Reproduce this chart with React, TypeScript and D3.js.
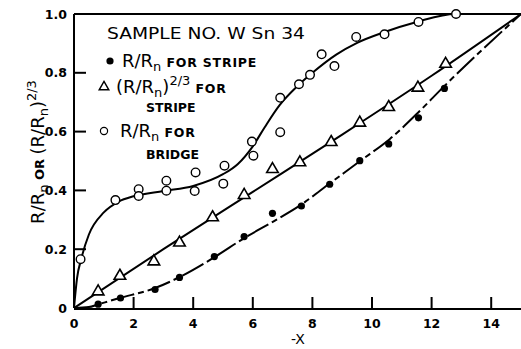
import * as d3 from 'd3';

// open circles: R/Rn for bridge
const bridgeX = [0.22, 1.39, 2.17, 2.17, 3.1, 3.1, 4.08, 4.05, 5.05, 5.01, 5.97, 6.02, 6.92, 6.92, 7.55, 7.92, 8.31, 8.74, 9.47, 10.42, 11.56, 12.82];
const bridgeY = [0.166, 0.367, 0.404, 0.381, 0.433, 0.399, 0.461, 0.398, 0.484, 0.423, 0.566, 0.518, 0.715, 0.598, 0.761, 0.793, 0.863, 0.823, 0.922, 0.931, 0.973, 1.0];

// triangles: (R/Rn)^2/3 for stripe
const triX = [0.81, 1.54, 2.68, 3.54, 4.65, 5.71, 6.66, 7.58, 8.63, 9.59, 10.56, 11.54, 12.47];
const triY = [0.056, 0.109, 0.158, 0.222, 0.308, 0.384, 0.472, 0.495, 0.564, 0.63, 0.683, 0.749, 0.83];

// filled dots: R/Rn for stripe
const dotX = [0.81, 1.56, 2.72, 3.54, 4.71, 5.71, 6.66, 7.63, 8.58, 9.59, 10.56, 11.56, 12.43];
const dotY = [0.013, 0.034, 0.063, 0.104, 0.175, 0.243, 0.322, 0.347, 0.421, 0.501, 0.558, 0.647, 0.747];

// hand-drawn fitted curves
const bridgeCurveX = [0, 0.1, 0.25, 0.5, 1, 1.5, 2, 3, 4, 5, 5.5, 6, 6.4, 6.9, 7.5, 8, 8.8, 9.5, 10.4, 11.5, 12.8, 15];
const bridgeCurveY = [0, 0.1, 0.17, 0.25, 0.325, 0.362, 0.38, 0.398, 0.415, 0.455, 0.49, 0.55, 0.615, 0.69, 0.755, 0.8, 0.862, 0.902, 0.938, 0.973, 1.0, 1.0];
const triCurveX = [0, 3, 6, 9, 12, 15];
const triCurveY = [0, 0.2, 0.395, 0.59, 0.79, 1.0];
const dotCurveX = [0, 0.5, 0.8, 1.5, 2.7, 3.5, 4.7, 5.7, 6.7, 7.6, 8.6, 9.6, 10.6, 11.6, 12.4, 15];
const dotCurveY = [0, 0.003, 0.012, 0.033, 0.067, 0.103, 0.172, 0.237, 0.295, 0.35, 0.425, 0.5, 0.575, 0.67, 0.752, 1.0];

const xTicks = [0, 2, 4, 6, 8, 10, 12, 14];
const yTicks = [0, 0.2, 0.4, 0.6, 0.8, 1.0];

const FONT = 'DejaVu Sans';

export default function App() {
  const width = 521;
  const height = 349;

  const x = d3.scaleLinear().domain([0, 15]).range([74, 521]);
  const y = d3.scaleLinear().domain([0, 1]).range([308, 14]);

  const curve = (xs: number[], ys: number[]) =>
    d3
      .line<number>()
      .x((_, i) => x(xs[i]))
      .y((d) => y(d))
      .curve(d3.curveMonotoneX)(ys) ?? '';

  const tri = d3.symbol().type(d3.symbolTriangle).size(58)() ?? '';
  const triSmall = d3.symbol().type(d3.symbolTriangle).size(40)() ?? '';

  return (
    <svg
      width={width}
      height={height}
      style={{ position: 'absolute', left: 0, top: 0, background: '#fff' }}
      fontFamily={FONT}
    >
      {/* frame */}
      <g stroke="#000" strokeWidth={2} fill="none">
        <line x1={x(0)} x2={x(15)} y1={y(1)} y2={y(1)} />
        <line x1={x(0)} x2={x(0)} y1={y(0)} y2={y(1)} />
        <line x1={x(0)} x2={x(15)} y1={y(0) + 1} y2={y(0) + 1} />
        {xTicks.filter((t) => t > 0).map((t) => (
          <line key={t} x1={x(t)} x2={x(t)} y1={y(0)} y2={y(0) - 11} />
        ))}
        {yTicks.filter((t) => t > 0 && t < 1).map((t) => (
          <line key={t} x1={x(0)} x2={x(0) + 12} y1={y(t)} y2={y(t)} />
        ))}
      </g>

      {/* tick labels */}
      <g fontSize={12.5} fontWeight="bold" fill="#000">
        {xTicks.map((t) => (
          <text key={t} x={x(t)} y={328} textAnchor="middle">{t}</text>
        ))}
        {yTicks.map((t) => (
          <text key={t} x={67} y={y(t) + 4.5} textAnchor="end">{t === 0 ? '0' : t.toFixed(1)}</text>
        ))}
      </g>
      <text x={298} y={344} textAnchor="middle" fontSize={14}>-X</text>

      {/* y label */}
      <text transform="translate(44,152) rotate(-90)" textAnchor="middle" fontSize={18}>
        R/R<tspan dy={4} fontSize={13}>n</tspan>
        <tspan dy={-4} fontSize={13} fontWeight="bold"> OR </tspan>
        <tspan>(R/R</tspan>
        <tspan dy={4} fontSize={13}>n</tspan>
        <tspan dy={-4}>)</tspan>
        <tspan dy={-8} fontSize={13}>2/3</tspan>
      </text>

      {/* curves */}
      <g fill="none" stroke="#000" strokeWidth={2}>
        <path d={curve(bridgeCurveX, bridgeCurveY)} />
        <path d={curve(triCurveX, triCurveY)} />
        <path d={curve(dotCurveX, dotCurveY)} strokeDasharray="24,4,6,4" />
      </g>

      {/* markers */}
      {bridgeX.map((v, i) => (
        <circle key={`b${i}`} cx={x(v)} cy={y(bridgeY[i])} r={4.3} fill="#fff" stroke="#000" strokeWidth={1.4} />
      ))}
      {triX.map((v, i) => (
        <path key={`t${i}`} d={tri} transform={`translate(${x(v)},${y(triY[i])})`} fill="#fff" stroke="#000" strokeWidth={1.6} />
      ))}
      {dotX.map((v, i) => (
        <circle key={`d${i}`} cx={x(v)} cy={y(dotY[i])} r={3.6} fill="#000" />
      ))}

      {/* legend */}
      <g fill="#000">
        <text x={107} y={39} fontSize={15} textLength={198} lengthAdjust="spacingAndGlyphs">SAMPLE NO. W Sn 34</text>

        <circle cx={110} cy={61} r={3.6} />
        <text x={122} y={67} fontSize={18}>
          R/R<tspan dy={4} fontSize={13}>n</tspan>
          <tspan dy={-4} fontSize={12.5} fontWeight="bold" letterSpacing={0.8}> FOR STRIPE</tspan>
        </text>

        <path d={triSmall} transform="translate(104,87)" fill="#fff" stroke="#000" strokeWidth={1.4} />
        <text x={116} y={93} fontSize={18}>
          (R/R<tspan dy={4} fontSize={13}>n</tspan>
          <tspan dy={-4}>)</tspan>
          <tspan dy={-8} fontSize={13}>2/3</tspan>
          <tspan dy={8} fontSize={12.5} fontWeight="bold" letterSpacing={0.8}> FOR</tspan>
        </text>
        <text x={146} y={112} fontSize={12.5} fontWeight="bold">STRIPE</text>

        <circle cx={104} cy={131} r={3.6} fill="#fff" stroke="#000" strokeWidth={1.2} />
        <text x={120} y={137} fontSize={18}>
          R/R<tspan dy={4} fontSize={13}>n</tspan>
          <tspan dy={-4} fontSize={12.5} fontWeight="bold" letterSpacing={0.8}> FOR</tspan>
        </text>
        <text x={146} y={159} fontSize={12.5} fontWeight="bold">BRIDGE</text>
      </g>
    </svg>
  );
}
